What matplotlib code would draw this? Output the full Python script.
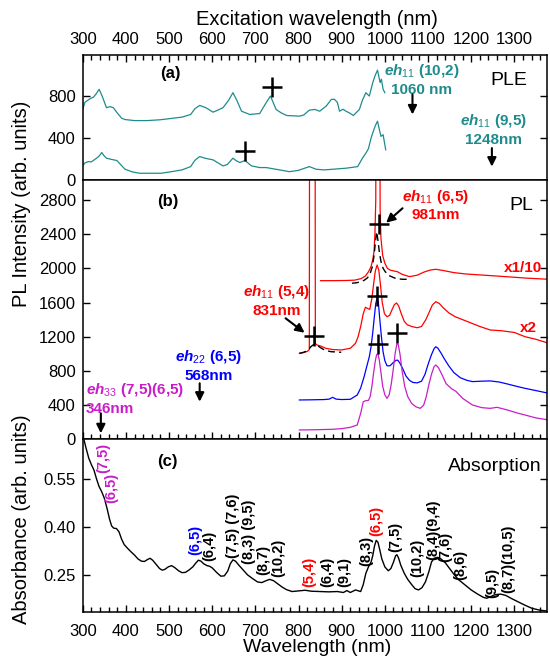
#coding=utf-8

import matplotlib
matplotlib.use('Agg')
import matplotlib.pyplot as plt
from matplotlib.ticker import MultipleLocator, FormatStrFormatter

plt.rcParams['font.family'] = ['Liberation Sans', 'DejaVu Sans']
plt.rcParams['mathtext.fontset'] = 'custom'
plt.rcParams['mathtext.it'] = 'Liberation Sans:italic:bold'
plt.rcParams['mathtext.rm'] = 'Liberation Sans'
plt.rcParams['mathtext.bf'] = 'Liberation Sans:bold'

# (a) PLE, detection at 1060 nm (10,2)
ple1_x = [300, 305, 309, 317, 325, 331, 338, 345, 355, 363, 371, 380, 390, 398, 420, 450,
          480, 510, 530, 550, 560, 571, 585, 602, 615, 625, 638, 648, 657, 668, 687, 710,
          725, 735, 748, 760, 773, 790, 802, 812, 825, 838, 849, 864, 876, 883, 890, 895,
          903, 910, 918, 927, 941, 948, 956, 964, 972, 978, 983, 989, 992, 996, 1000]
ple1_y = [673, 740, 752, 775, 790, 820, 864, 800, 689, 700, 689, 640, 590, 577, 567, 567,
          575, 590, 600, 625, 680, 711, 690, 647, 670, 689, 760, 832, 760, 656, 625, 634,
          737, 800, 673, 640, 615, 612, 609, 620, 666, 673, 656, 704, 768, 770, 740, 656,
          675, 656, 640, 615, 673, 760, 832, 800, 928, 1000, 1046, 928, 960, 864, 832]

# (a) PLE, detection at 1248 nm (9,5)
ple2_x = [300, 305, 313, 320, 332, 338, 344, 350, 355, 365, 379, 390, 398, 415, 432, 460,
          482, 510, 530, 550, 560, 571, 583, 602, 625, 635, 648, 656, 664, 676, 691, 710,
          725, 756, 779, 800, 825, 841, 860, 879, 910, 937, 948, 956, 962, 968, 972, 978,
          983, 988, 991, 996, 1002]
ple2_y = [137, 165, 178, 175, 210, 230, 264, 230, 210, 200, 188, 140, 105, 80, 67, 67,
          67, 85, 99, 130, 190, 226, 210, 194, 137, 150, 210, 185, 169, 188, 137, 121,
          121, 99, 82, 95, 130, 105, 99, 105, 115, 130, 210, 258, 300, 400, 450, 520,
          561, 470, 417, 433, 290]

# (b) PL spectra
pl10_x = [851, 880, 910, 930, 945, 955, 962, 968, 972, 975, 977, 979, 980, 988, 989, 991,
          995, 1000, 1006, 1012, 1020, 1029, 1040, 1057, 1075, 1090, 1105, 1118, 1135,
          1160, 1188, 1230, 1280, 1330, 1380]
pl10_y = [1856, 1856, 1858, 1862, 1880, 1910, 1960, 2020, 2100, 2200, 2400, 2800, 6000,
          6000, 2700, 2350, 2150, 2060, 2000, 1980, 1970, 1961, 1930, 1903, 1920, 1955,
          1980, 1989, 1975, 1950, 1934, 1920, 1903, 1885, 1872]

fit981_x = [924, 935, 945, 952, 960, 966, 971, 975, 978, 981, 984, 987, 991, 996, 1001,
            1010, 1024, 1040, 1053]
fit981_y = [1826, 1832, 1845, 1860, 1890, 1940, 2020, 2150, 2300, 2429, 2330, 2200, 2080,
            2000, 1960, 1915, 1884, 1872, 1872]

pl2_x = [802, 812, 821, 825, 826, 838, 839, 843, 852, 863, 879, 899, 920, 932, 938, 944,
         950, 955, 960, 965, 970, 974, 978, 982, 986, 990, 994, 999, 1005, 1011, 1017, 1022,
         1027, 1032, 1038, 1045, 1052, 1062, 1075, 1085, 1095, 1103, 1110, 1118, 1126,
         1135, 1148, 1163, 1190, 1220, 1244, 1270, 1300, 1325, 1350, 1380]
pl2_y = [1006, 1015, 1030, 1050, 6000, 6000, 1120, 1103, 1090, 1065, 1050, 1045, 1065,
         1123, 1200, 1320, 1470, 1545, 1530, 1520, 1650, 1820, 1970, 2039, 1980, 1800, 1600,
         1470, 1434, 1450, 1520, 1575, 1595, 1560, 1470, 1380, 1340, 1320, 1305, 1320,
         1400, 1490, 1570, 1610, 1590, 1540, 1480, 1434, 1380, 1320, 1279, 1270, 1250,
         1200, 1170, 1123]

fit831_x = [802, 810, 818, 824, 829, 834, 838, 843, 850, 860, 875, 899]
fit831_y = [1006, 1015, 1030, 1055, 1085, 1105, 1111, 1100, 1075, 1045, 1025, 1018]

pl568_x = [802, 830, 860, 871, 879, 887, 900, 920, 936, 944, 952, 958, 964, 968, 972, 976,
           979, 982, 985, 988, 992, 996, 1000, 1005, 1012, 1020, 1026, 1030, 1035, 1042,
           1049, 1057, 1065, 1075, 1085, 1093, 1101, 1108, 1114, 1118, 1123, 1130, 1138,
           1148, 1160, 1175, 1190, 1203, 1225, 1244, 1265, 1284, 1305, 1325, 1350, 1380]
pl568_y = [460, 462, 465, 470, 491, 470, 465, 468, 518, 600, 733, 850, 966, 1080, 1250,
           1450, 1590, 1650, 1600, 1420, 1200, 1020, 920, 860, 860, 900, 925, 925, 890,
           820, 740, 690, 665, 660, 680, 760, 889, 990, 1060, 1083, 1065, 1010, 940, 860,
           780, 720, 690, 675, 680, 683, 670, 647, 620, 596, 570, 538]

pl346_x = [802, 840, 879, 900, 920, 936, 944, 950, 956, 962, 966, 970, 974, 978, 981, 984,
           987, 991, 995, 1000, 1005, 1010, 1015, 1020, 1024, 1028, 1031, 1035, 1040, 1046,
           1053, 1062, 1072, 1082, 1090, 1096, 1102, 1108, 1114, 1118, 1124, 1132, 1142,
           1155, 1165, 1180, 1203, 1225, 1244, 1260, 1284, 1305, 1325, 1350, 1380]
pl346_y = [109, 112, 117, 125, 140, 167, 304, 440, 452, 455, 500, 620, 780, 920, 990,
           1000, 930, 780, 620, 520, 479, 520, 650, 840, 1010, 1120, 1110, 1000, 800, 620,
           500, 420, 380, 362, 400, 500, 640, 760, 850, 869, 840, 760, 650, 590, 560, 480,
           401, 370, 362, 374, 343, 310, 284, 250, 226]

# (c) absorption
abs_x = [303, 308, 314, 320, 326, 332, 338, 344, 350, 356, 362, 367, 372, 378, 384, 390,
         396, 404, 412, 420, 428, 436, 443, 450, 456, 462, 470, 478, 484, 490, 498, 506,
         514, 522, 530, 538, 546, 555, 562, 568, 574, 580, 588, 594, 600, 610, 620, 628,
         636, 642, 648, 654, 662, 672, 682, 692, 705, 715, 725, 733, 742, 752, 762, 772,
         785, 800, 815, 830, 850, 870, 890, 904, 912, 920, 932, 944, 950, 956, 962, 968,
         972, 976, 980, 984, 988, 993, 1000, 1008, 1014, 1020, 1025, 1028, 1032, 1037,
         1045, 1053, 1062, 1070, 1078, 1086, 1094, 1102, 1108, 1114, 1122, 1130, 1140,
         1150, 1160, 1170, 1180, 1190, 1200, 1215, 1228, 1236, 1245, 1255, 1268, 1280,
         1295, 1310, 1325, 1340, 1358, 1376]
abs_y = [0.672, 0.645, 0.615, 0.595, 0.578, 0.55, 0.526, 0.51, 0.49, 0.46, 0.425, 0.403,
         0.396, 0.395, 0.385, 0.362, 0.345, 0.333, 0.322, 0.312, 0.3, 0.293, 0.292, 0.298,
         0.302, 0.296, 0.283, 0.27, 0.265, 0.267, 0.275, 0.279, 0.272, 0.263, 0.257, 0.258,
         0.265, 0.275, 0.287, 0.296, 0.293, 0.285, 0.279, 0.277, 0.272, 0.258, 0.246,
         0.247, 0.262, 0.285, 0.297, 0.293, 0.28, 0.265, 0.25, 0.24, 0.228, 0.226, 0.232,
         0.236, 0.232, 0.222, 0.212, 0.204, 0.198, 0.2, 0.202, 0.199, 0.198, 0.197, 0.198,
         0.195, 0.201, 0.195, 0.203, 0.198, 0.22, 0.255, 0.275, 0.29, 0.31, 0.34, 0.358,
         0.352, 0.33, 0.3, 0.275, 0.263, 0.27, 0.29, 0.31, 0.313, 0.302, 0.28, 0.255,
         0.236, 0.22, 0.207, 0.203, 0.21, 0.228, 0.26, 0.29, 0.302, 0.305, 0.3, 0.288,
         0.27, 0.252, 0.236, 0.225, 0.214, 0.203, 0.19, 0.18, 0.177, 0.182, 0.188, 0.19,
         0.186, 0.175, 0.165, 0.155, 0.146, 0.14, 0.137]

# chirality labels in (c): text, wavelength, absorbance, colour
abs_labels = ['(7,5)', '(6,5)', '(6,5)', '(6,4)', '(7,5) (7,6)', '(8,3) (9,5)', '(8,7)',
              '(10,2)', '(5,4)', '(6,4)', '(9,1)', '(8,3)', '(6,5)', '(7,5)', '(10,2)',
              '(8,4)(9,4)', '(7,6)', '(8,6)', '(9,5)', '(8,7)(10,5)']
abs_label_x = [348, 367, 560, 593, 648, 686, 719, 752, 826, 867, 907, 956, 980, 1025,
               1074, 1112, 1141, 1175, 1248, 1286]
abs_label_y = [0.615, 0.523, 0.36, 0.342, 0.404, 0.385, 0.297, 0.302, 0.258, 0.258, 0.258,
               0.326, 0.42, 0.37, 0.302, 0.39, 0.338, 0.281, 0.225, 0.30]
abs_label_c = ['m', 'm', 'b', 'k', 'k', 'k', 'k', 'k', 'r', 'k', 'k', 'k', 'r', 'k', 'k',
               'k', 'k', 'k', 'k', 'k']

teal = '#1e8c8c'
magenta = '#c81ec8'
colmap = {'m': magenta, 'b': '#0000ff', 'r': '#ff0000', 'k': 'black'}


def style_axes(ax, ylim, ymajor, fmt):
    ax.set_xlim(300, 1375)
    ax.set_ylim(*ylim)
    ax.xaxis.set_major_locator(MultipleLocator(100))
    ax.xaxis.set_minor_locator(MultipleLocator(20))
    ax.yaxis.set_major_locator(MultipleLocator(ymajor))
    ax.yaxis.set_major_formatter(FormatStrFormatter(fmt))
    ax.tick_params(which='both', direction='in', left=True, right=True, width=1,
                   labelsize=12, pad=5)
    ax.tick_params(which='major', length=5)
    ax.tick_params(which='minor', length=3.5)
    ax.tick_params(axis='y', which='minor', left=False, right=False)
    for s in ax.spines.values():
        s.set_linewidth(1.1)


def arrow(ax, x0, y0, x1, y1):
    ax.annotate('', xy=(x1, y1), xytext=(x0, y0),
                arrowprops=dict(arrowstyle='-|>', color='black', lw=1.5,
                                mutation_scale=13, shrinkA=0, shrinkB=0))


def plot_all():
    fig = plt.figure(figsize=(5.5, 6.6), dpi=100)
    L, W = 0.1504, 0.8436
    axa = fig.add_axes([L, 0.7268, W, 0.1899])
    axb = fig.add_axes([L, 0.3344, W, 0.3924], sharex=axa)
    axc = fig.add_axes([L, 0.0732, W, 0.2612], sharex=axa)

    # ---- (a) PLE
    axa.plot(ple1_x, ple1_y, color=teal, lw=0.9)
    axa.plot(ple2_x, ple2_y, color=teal, lw=0.9)
    axa.plot([739, 675], [890, 274], '+', color='black', ms=14, mew=1.8)
    style_axes(axa, (0, 1190), 400, '%d')
    axa.tick_params(axis='x', which='both', bottom=False, top=True,
                    labelbottom=False, labeltop=True, pad=6)
    axa.text(504, 1017, '(a)', fontsize=12, fontweight='bold', ha='center', va='center')
    axa.text(1288, 944, 'PLE', fontsize=14, ha='center', va='center')
    axa.text(1085, 956, '$eh_{11}$ (10,2)\n1060 nm', color=teal, fontsize=11,
             fontweight='bold', ha='center', va='center', linespacing=1.25)
    arrow(axa, 1064, 816, 1064, 625)
    axa.text(1252, 481, '$eh_{11}$ (9,5)\n1248nm', color=teal, fontsize=11,
             fontweight='bold', ha='center', va='center', linespacing=1.25)
    arrow(axa, 1248, 306, 1248, 130)

    # ---- (b) PL
    axb.plot(pl10_x, pl10_y, color='#ff0000', lw=0.9)
    axb.plot(fit981_x, fit981_y, color='black', lw=1.0, ls=(0, (5, 3)))
    axb.plot(pl2_x, pl2_y, color='#ff0000', lw=0.9)
    axb.plot(fit831_x, fit831_y, color='black', lw=1.0, ls=(0, (5, 3)))
    axb.plot(pl568_x, pl568_y, color='#0000ff', lw=0.9)
    axb.plot(pl346_x, pl346_y, color=magenta, lw=0.9)
    axb.plot([986, 982, 984, 1029, 836], [2519, 1680, 1111, 1247, 1209], '+',
             color='black', ms=14, mew=1.8)
    style_axes(axb, (0, 3030), 400, '%d')
    axb.tick_params(axis='x', which='both', bottom=True, top=False, labelbottom=False)
    axb.text(496, 2780, '(b)', fontsize=12, fontweight='bold', ha='center', va='center')
    axb.text(1317, 2741, 'PL', fontsize=14, ha='center', va='center')
    axb.text(1118, 2741, '$eh_{11}$ (6,5)\n981nm', color='#ff0000', fontsize=11,
             fontweight='bold', ha='center', va='center', linespacing=1.25)
    arrow(axb, 1041, 2703, 1003, 2534)
    axb.text(749, 1620, '$eh_{11}$ (5,4)\n831nm', color='#ff0000', fontsize=11,
             fontweight='bold', ha='center', va='center', linespacing=1.25)
    arrow(axb, 770, 1416, 814, 1247)
    axb.text(1321, 2000, 'x1/10', color='#ff0000', fontsize=11, fontweight='bold',
             ha='center', va='center')
    axb.text(1333, 1299, 'x2', color='#ff0000', fontsize=11, fontweight='bold',
             ha='center', va='center')
    axb.text(591, 863, '$eh_{22}$ (6,5)\n568nm', color='#0000ff', fontsize=11,
             fontweight='bold', ha='center', va='center', linespacing=1.25)
    arrow(axb, 571, 655, 571, 440)
    axb.text(308, 479, '$eh_{33}$ (7,5)(6,5)\n346nm', color=magenta, fontsize=11,
             fontweight='bold', ha='left', va='center', linespacing=1.25)
    arrow(axb, 342, 304, 342, 70)

    # ---- (c) absorption
    axc.plot(abs_x, abs_y, color='black', lw=1.0)
    style_axes(axc, (0.135, 0.674), 0.15, '%.2f')
    axc.set_yticks([0.25, 0.40, 0.55])
    axc.tick_params(axis='x', which='both', bottom=True, top=False, labelbottom=True, pad=9)
    axc.text(496, 0.604, '(c)', fontsize=12, fontweight='bold', ha='center', va='center')
    axc.text(1362, 0.589, 'Absorption', fontsize=14, ha='right', va='center')
    for t, x, y, c in zip(abs_labels, abs_label_x, abs_label_y, abs_label_c):
        axc.text(x, y, t, rotation=90, color=colmap[c], fontsize=10.5, fontweight='bold',
                 ha='center', va='center')

    fig.text(0.577, 0.97, 'Excitation wavelength (nm)', fontsize=14.5, ha='center', va='center')
    fig.text(0.577, 0.006, 'Wavelength (nm)', fontsize=14, ha='center', va='bottom')
    fig.text(0.04, 1 - 204 / 660, 'PL Intensity (arb. units)', fontsize=14.5,
             rotation=90, ha='center', va='center')
    fig.text(0.04, 1 - 519 / 660, 'Absorbance (arb. units)', fontsize=14.5,
             rotation=90, ha='center', va='center')

    fig.savefig('out.png', dpi=100)


if __name__ == '__main__':
    plot_all()
